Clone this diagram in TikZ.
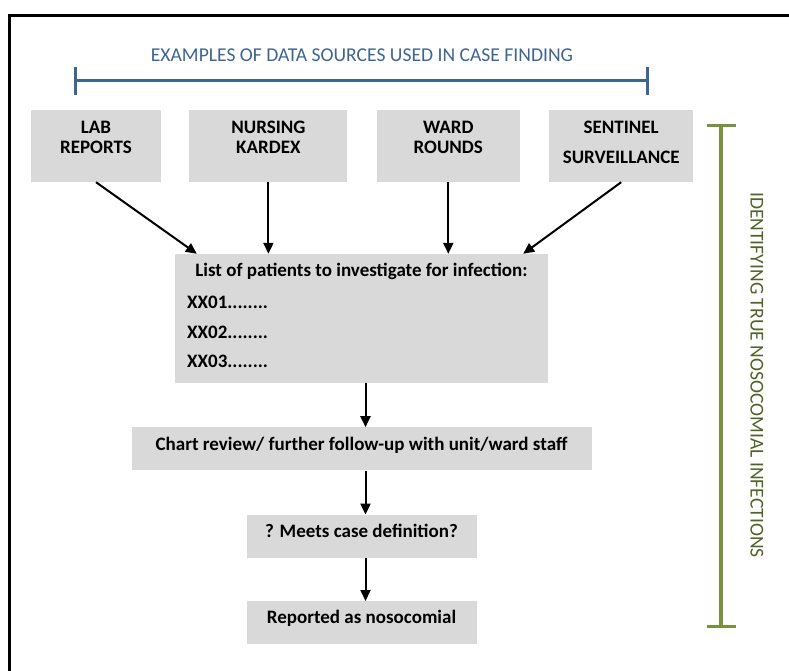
\documentclass[tikz,border=0pt]{standalone}
\usepackage{fontspec}
\setmainfont{Carlito}
\usetikzlibrary{positioning,arrows.meta,calc}
\definecolor{boxgray}{HTML}{D9D9D9}
\definecolor{srcblue}{HTML}{3D6591}
\definecolor{idgreen}{HTML}{77933C}
\definecolor{idtext}{HTML}{4F6228}

\begin{document}
\begin{tikzpicture}[x=1pt, y=-1pt, node distance=44pt,
  src/.style = {fill=boxgray, minimum height=72pt},
  srctext/.style = {align=center, inner sep=0pt, font=\fontsize{19}{20}\selectfont\bfseries},
  listtext/.style = {inner sep=0pt, text height=12.5pt, text depth=4.5pt, font=\fontsize{19}{22}\selectfont\bfseries},
  flowbox/.style = {fill=boxgray, minimum height=43pt, text height=12.5pt, text depth=10.3pt, font=\fontsize{19}{22}\selectfont\bfseries},
  arrow/.style = {-{Triangle[length=11pt,width=10pt]}, line width=2pt}]

\useasboundingbox (0,0) rectangle (789,671);
\draw[line width=3pt] (9.5,671) -- (9.5,15.5) -- (789,15.5);

\node[text=srcblue, font=\fontsize{19.6}{22}\selectfont] (title) at (362,55) {EXAMPLES OF DATA SOURCES USED IN CASE FINDING};
\draw[srcblue, line width=3pt, {Bar[width=28pt]}-{Bar[width=28pt]}] (74,81) -- (649,81);

\node[src, minimum width=130pt] (lab) at (96,146) {};
\node[src, minimum width=158pt, right=28pt of lab] (nursing) {};
\node[src, minimum width=143pt, right=29pt of nursing] (ward) {};
\node[src, minimum width=144pt, right=29pt of ward] (sentinel) {};

\node[srctext] (labtext) at ([yshift=9pt]lab.center) {LAB\\REPORTS};
\node[srctext] (nursingtext) at ([yshift=9pt]nursing.center) {NURSING\\KARDEX};
\node[srctext] (wardtext) at ([yshift=9pt]ward.center) {WARD\\ROUNDS};
\node[srctext] (sentineltext) at ([yshift=4pt]sentinel.center) {SENTINEL\\[10pt]SURVEILLANCE};

\node[src, minimum width=373pt, minimum height=129pt] (list) at (361.5,318.5) {};
\node[listtext] (listtitle) at ([yshift=-19pt]list.north) {List of patients to investigate for infection:};
\foreach \n [count=\i] in {01,02,03}
  \node[listtext, anchor=west] (item\n) at (187,275+29.5*\i) {XX\n........};

\draw[arrow] (lab.south) -- ($(list.north west)!0.059!(list.north east)$);
\draw[arrow] (nursing.south) -- (nursing.south |- list.north);
\draw[arrow] (ward.south) -- (ward.south |- list.north);
\draw[arrow] (sentinel.south) -- ($(list.north west)!0.933!(list.north east)$);

\node[flowbox, minimum width=460pt, below=of list] (chart) {Chart review/ further follow-up with unit/ward staff};
\node[flowbox, minimum width=230pt, below=of chart] (meets) {? Meets case definition?};
\node[flowbox, minimum width=230pt, below=43pt of meets] (reported) {Reported as nosocomial};

\draw[arrow] ([xshift=4pt]list.south) -- ([xshift=4pt]chart.north);
\draw[arrow] ([xshift=4pt]chart.south) -- ([xshift=4pt]meets.north);
\draw[arrow] ([xshift=4pt]meets.south) -- ([xshift=4pt]reported.north);

\draw[idgreen, line width=3.5pt, {Bar[width=29pt]}-{Bar[width=29pt]}] (721,124) -- (721,628);
\node[rotate=-90, text=idtext, font=\fontsize{19.6}{22}\selectfont] (idlabel) at (757,375) {IDENTIFYING TRUE NOSOCOMIAL INFECTIONS};

\end{tikzpicture}
\end{document}
